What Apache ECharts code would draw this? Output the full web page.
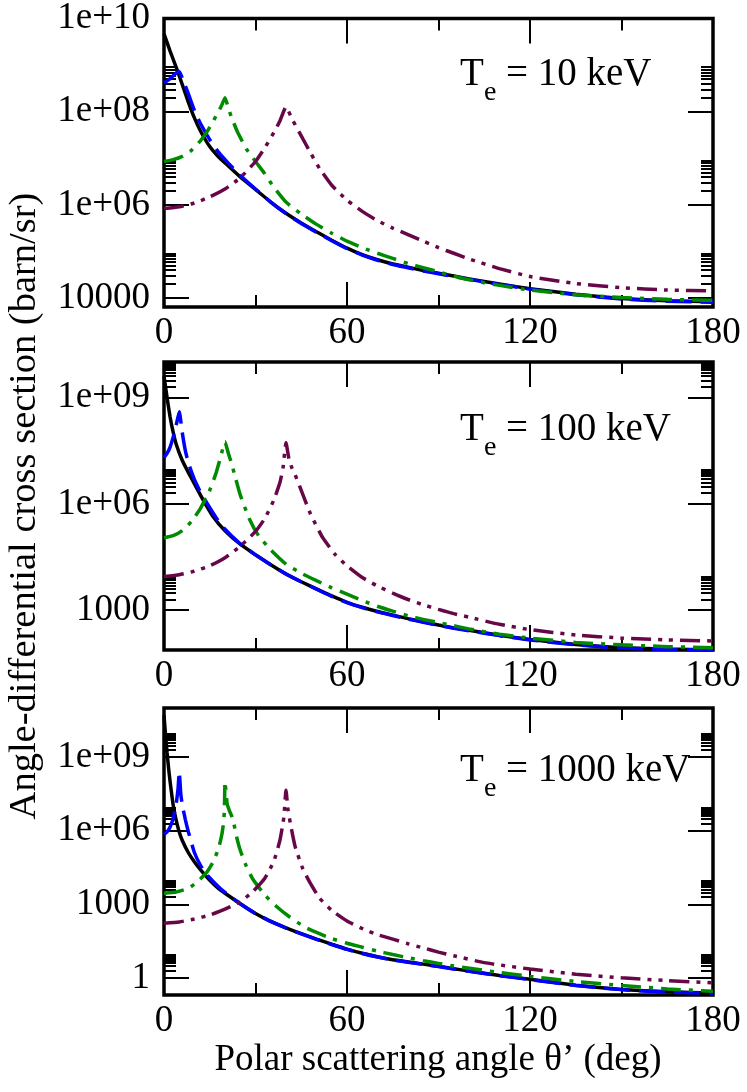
<!DOCTYPE html>
<html><head><meta charset="utf-8">
<script src="https://cdn.jsdelivr.net/npm/echarts@6/dist/echarts.min.js"></script>
<style>html,body{margin:0;padding:0;background:#fff}#c{width:747px;height:1092px}</style>
</head><body><div id="c"></div>
<script>
// ---------- DATA (angle in deg, value as log10 of barn/sr) ----------
const topBlack = [[0,9.67],[2,9.3],[4,8.95],[6,8.58],[8,8.2],[10,7.86],[12,7.58],[15,7.25],[18,7.02],[21,6.84],[25,6.6],[30,6.33],[35,6.06],[40,5.82],[45,5.61],[50,5.42],[55,5.24],[60,5.07],[65,4.93],[70,4.82],[75,4.73],[80,4.66],[85,4.59],[90,4.53],[100,4.41],[110,4.3],[120,4.2],[135,4.08],[150,3.99],[165,3.94],[180,3.92]];
const topBlue = [[0,8.62],[1,8.66],[2,8.71],[3,8.77],[4,8.83],[5,8.86],[6,8.72],[7,8.55],[8,8.38],[10,8.02],[12,7.74],[15,7.4],[18,7.12],[21,6.9],[25,6.63],[30,6.34],[35,6.06],[40,5.81],[45,5.6],[50,5.41],[55,5.23],[60,5.06],[65,4.92],[70,4.81],[75,4.72],[80,4.65],[85,4.58],[90,4.52],[100,4.4],[110,4.29],[120,4.19],[135,4.07],[150,3.98],[165,3.93],[180,3.91]];
const topGreen = [[0,6.93],[3,6.97],[6,7.04],[9,7.17],[12,7.38],[14,7.56],[16,7.78],[18,8.02],[19,8.15],[20,8.3],[21,8.1],[22,7.9],[24,7.58],[27,7.2],[30,6.93],[33,6.67],[36,6.38],[40,6.06],[45,5.8],[50,5.58],[55,5.39],[60,5.22],[65,5.08],[70,4.96],[75,4.85],[80,4.74],[85,4.65],[90,4.56],[95,4.47],[100,4.39],[110,4.27],[120,4.17],[135,4.07],[150,4.01],[165,3.97],[180,3.95]];
const topPurple = [[0,5.92],[5,5.96],[10,6.04],[15,6.17],[20,6.34],[25,6.58],[30,6.93],[33,7.22],[36,7.55],[38,7.8],[40,8.1],[42,7.84],[45,7.48],[48,7.12],[51,6.78],[55,6.42],[60,6.1],[65,5.86],[70,5.66],[75,5.5],[80,5.36],[85,5.22],[90,5.08],[95,4.96],[100,4.84],[110,4.63],[120,4.46],[135,4.31],[150,4.22],[165,4.17],[180,4.15]];

const midBlack = [[0,9.6],[1,9.0],[2,8.45],[3,8.02],[4,7.68],[6,7.22],[8,6.88],[10,6.56],[13,6.08],[16,5.65],[20,5.24],[25,4.86],[30,4.56],[35,4.28],[40,4.02],[45,3.8],[50,3.6],[55,3.4],[60,3.22],[65,3.08],[70,2.96],[75,2.86],[80,2.76],[85,2.67],[90,2.58],[95,2.5],[100,2.43],[110,2.29],[120,2.17],[135,2.03],[150,1.94],[165,1.9],[180,1.88]];
const midBlue = [[0,7.3],[1,7.42],[2,7.6],[3,7.88],[4,8.22],[5,8.6],[6,8.0],[7,7.5],[8,7.15],[10,6.68],[12,6.32],[14,6.03],[17,5.62],[20,5.28],[25,4.87],[30,4.56],[35,4.28],[40,4.02],[45,3.8],[50,3.59],[55,3.39],[60,3.21],[65,3.07],[70,2.95],[75,2.85],[80,2.75],[85,2.66],[90,2.57],[95,2.49],[100,2.42],[110,2.28],[120,2.16],[135,2.02],[150,1.93],[165,1.89],[180,1.87]];
const midGreen = [[0,5.04],[3,5.1],[6,5.24],[9,5.5],[12,5.88],[15,6.38],[17,6.85],[18.5,7.3],[20,7.75],[21,7.45],[22,7.18],[23,6.87],[25,6.25],[28,5.57],[31,5.1],[35,4.7],[40,4.3],[45,4.04],[50,3.83],[55,3.63],[60,3.45],[65,3.27],[70,3.11],[75,2.97],[80,2.84],[85,2.74],[90,2.65],[95,2.56],[100,2.47],[110,2.32],[120,2.21],[135,2.09],[150,2.02],[165,1.97],[180,1.94]];
const midPurple = [[0,3.95],[5,4.0],[10,4.1],[15,4.25],[20,4.48],[25,4.8],[30,5.22],[33,5.58],[36,6.1],[38,6.6],[39,7.0],[40,7.72],[41,7.25],[42,7.0],[43,6.82],[45,6.38],[48,5.72],[52,5.05],[56,4.58],[60,4.25],[65,3.92],[70,3.68],[75,3.48],[80,3.3],[85,3.15],[90,3.02],[95,2.9],[100,2.8],[110,2.6],[120,2.45],[135,2.3],[150,2.21],[165,2.16],[180,2.13]];

const botBlack = [[0,10.7],[0.5,9.9],[1,9.2],[1.5,8.55],[2,8.0],[3,7.05],[4,6.42],[5,5.95],[6,5.6],[8,5.1],[10,4.72],[12,4.4],[15,3.98],[18,3.63],[20,3.45],[25,3.02],[30,2.62],[35,2.3],[40,2.04],[45,1.8],[50,1.58],[55,1.37],[60,1.17],[65,1.0],[70,0.86],[75,0.74],[80,0.65],[85,0.56],[90,0.47],[95,0.37],[100,0.28],[110,0.1],[120,-0.06],[135,-0.3],[150,-0.47],[165,-0.57],[180,-0.62]];
const botBlue = [[0,5.85],[1,5.95],[2,6.15],[3,6.5],[4,7.1],[4.6,7.7],[5,8.4],[5.5,7.5],[6,7.05],[7,6.45],[8,5.95],[10,5.1],[12,4.58],[14,4.22],[17,3.82],[20,3.48],[25,3.02],[30,2.62],[35,2.3],[40,2.03],[45,1.79],[50,1.57],[55,1.36],[60,1.16],[65,0.99],[70,0.85],[75,0.73],[80,0.64],[85,0.55],[90,0.46],[95,0.36],[100,0.27],[110,0.09],[120,-0.07],[135,-0.31],[150,-0.48],[165,-0.58],[180,-0.63]];
const botGreen = [[0,3.45],[4,3.5],[8,3.65],[11,3.92],[14,4.3],[16,4.7],[17.5,5.15],[18.6,5.62],[19.4,6.2],[19.8,6.8],[20,8.0],[20.7,7.1],[21.5,6.8],[22.5,6.5],[24,5.65],[25,5.2],[27,4.55],[29,4.05],[33,3.38],[37,2.9],[41,2.5],[46,2.08],[50,1.85],[55,1.6],[60,1.41],[65,1.25],[70,1.09],[75,0.95],[80,0.82],[85,0.7],[90,0.59],[95,0.48],[110,0.22],[120,0.06],[135,-0.15],[150,-0.31],[165,-0.45],[180,-0.55]];
const botPurple = [[0,2.23],[5,2.28],[10,2.4],[15,2.56],[20,2.8],[25,3.1],[29,3.5],[33,4.05],[36,4.75],[38,5.6],[39.3,6.55],[40,7.65],[40.6,6.9],[41.5,6.25],[43,5.35],[45.5,4.45],[48,3.85],[51,3.25],[55,2.75],[60,2.32],[66,1.95],[70,1.76],[75,1.58],[80,1.39],[85,1.22],[90,1.05],[95,0.9],[105,0.62],[120,0.36],[135,0.15],[150,0.0],[165,-0.11],[180,-0.2]];

// ---------- TICKS ----------
const xTicks = [0, 60, 120, 180];
const topTickValues = [1e4, 1e6, 1e8, 1e10];
const topTickLabels = ['10000', '1e+06', '1e+08', '1e+10'];
const midTickValues = [1e3, 1e6, 1e9];
const midTickLabels = ['1000', '1e+06', '1e+09'];
const botTickValues = [1, 1e3, 1e6, 1e9];
const botTickLabels = ['1', '1000', '1e+06', '1e+09'];
const panelTitles = ['10 keV', '100 keV', '1000 keV'];

// ---------- LAYOUT ----------
const FONT = '"Liberation Serif", "Times New Roman", serif';
const FS = 37;
const FS_NOTE = 39;
const panels = [
  {top: 18, height: 289, min: 6.4e3, max: 1e10, ticks: topTickValues, labels: topTickLabels,
   series: [topBlack, topBlue, topGreen, topPurple], textY: 75},
  {top: 362, height: 288, min: 75, max: 1e10, ticks: midTickValues, labels: midTickLabels,
   series: [midBlack, midBlue, midGreen, midPurple], textY: 430},
  {top: 708, height: 287, min: 0.2, max: 1e11, ticks: botTickValues, labels: botTickLabels,
   series: [botBlack, botBlue, botGreen, botPurple], textY: 771}
];
const styles = [
  {color: '#000000', type: 'solid'},
  {color: '#0000ff', type: [26, 9]},
  {color: '#008b00', type: [20, 8, 4, 8]},
  {color: '#670748', type: [20, 7, 4, 7, 4, 7]}
];

function minorTicks(majors, min, max) {
  const out = [];
  majors.concat([majors[0] / (majors[1] / majors[0])]).forEach(m => {
    for (let i = 2; i <= 9; i++) { const v = m * i; if (v > min && v < max) out.push(v); }
  });
  return out;
}
function txt(x, y, s, size, align) {
  return {type: 'text', x: x, y: y, style: {text: s, fill: '#000', font: size + 'px ' + FONT,
    fontFamily: FONT, fontSize: size, align: align || 'left', textAlign: align || 'left',
    verticalAlign: 'middle', textVerticalAlign: 'middle'}};
}

const grid = [], xAxis = [], yAxis = [], series = [], graphic = [];
panels.forEach((p, i) => {
  grid.push({left: 164, top: p.top, width: 549, height: p.height, show: true,
    borderColor: '#000', borderWidth: 3.5, backgroundColor: 'transparent', containLabel: false});
  ['bottom', 'top'].forEach(pos => {
    xAxis.push({gridIndex: i, type: 'value', min: 0, max: 180, interval: 60, position: pos,
      axisLine: {show: false}, splitLine: {show: false},
      axisTick: {show: true, inside: true, length: 25, lineStyle: {color: '#000', width: 2}},
      minorTick: {show: true, splitNumber: 2, length: 12, lineStyle: {color: '#000', width: 2}},
      minorSplitLine: {show: false},
      axisLabel: {show: pos === 'bottom', margin: 8, color: '#000', fontFamily: FONT, fontSize: FS}
    });
  });
  const labelFmt = v => {
    for (let k = 0; k < p.ticks.length; k++) {
      if (Math.abs(Math.log10(v) - Math.log10(p.ticks[k])) < 0.01) return p.labels[k];
    }
    return '';
  };
  const minors = minorTicks(p.ticks, p.min, p.max);
  ['left', 'right'].forEach(pos => {
    yAxis.push({gridIndex: i, type: 'log', logBase: 10, min: p.min, max: p.max, position: pos,
      axisLine: {show: false}, splitLine: {show: false},
      axisTick: {show: true, inside: true, length: 25, customValues: p.ticks, lineStyle: {color: '#000', width: 2}},
      axisLabel: {show: pos === 'left', customValues: p.ticks, formatter: labelFmt, margin: 14,
        color: '#000', fontFamily: FONT, fontSize: FS}
    });
    yAxis.push({gridIndex: i, type: 'log', logBase: 10, min: p.min, max: p.max, position: pos,
      axisLine: {show: false}, splitLine: {show: false},
      axisTick: {show: true, inside: true, length: 12, customValues: minors, lineStyle: {color: '#000', width: 2}},
      axisLabel: {show: false}
    });
  });
  p.series.forEach((arr, k) => {
    series.push({type: 'line', xAxisIndex: 2 * i, yAxisIndex: 4 * i, showSymbol: false, symbol: 'none',
      smooth: 0.15, z: 2 + k, animation: false,
      lineStyle: {color: styles[k].color, width: 3.5, type: styles[k].type, cap: 'butt'},
      data: arr.map(d => [d[0], Math.pow(10, d[1])])});
  });
  graphic.push(txt(460, p.textY, 'T', FS_NOTE));
  graphic.push(txt(484, p.textY + 18, 'e', 28));
  graphic.push(txt(506, p.textY, '= ' + panelTitles[i], FS_NOTE));
});

graphic.push(txt(438, 1060, 'Polar scattering angle θ’ (deg)', FS, 'center'));
const yTitle = txt(25, 506, 'Angle-differential cross section (barn/sr)', 38.5, 'center');
yTitle.rotation = Math.PI / 2;
graphic.push(yTitle);

const chart = echarts.init(document.getElementById('c'), null, {renderer: 'canvas'});
chart.setOption({backgroundColor: '#fff', animation: false, grid, xAxis, yAxis, series, graphic});
</script></body></html>
